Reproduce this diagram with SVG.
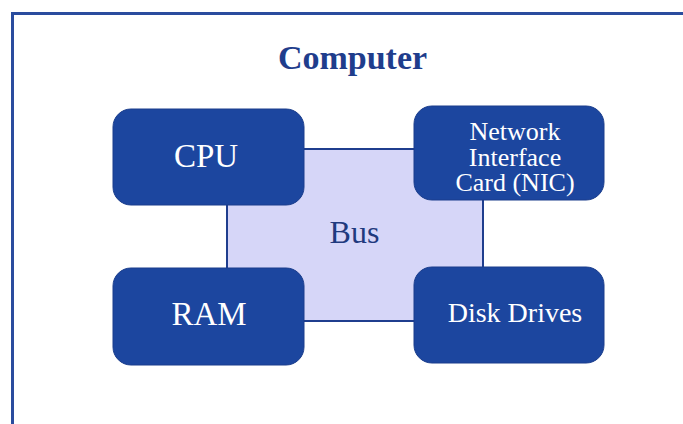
<svg xmlns="http://www.w3.org/2000/svg" width="683" height="424" viewBox="0 0 683 424">
  <style>
    .node rect { fill: #1c469f; stroke: #1a3d8c; stroke-width: 1; }
    .node text { fill: #ffffff; font-family: "Liberation Serif", "Times New Roman", serif; text-anchor: middle; }
    .link { stroke: #1f3e8e; stroke-width: 2; }
    .title { fill: #1f3d8c; font-family: "Liberation Serif", "Times New Roman", serif; font-weight: bold; font-size: 34px; text-anchor: middle; }
  </style>
  <rect x="0" y="0" width="683" height="424" fill="#ffffff"/>
  <!-- outer frame -->
  <rect x="12.5" y="13.5" width="700" height="440" fill="none" stroke="#2a4c9e" stroke-width="3"/>
  <text class="title" x="352.5" y="69">Computer</text>

  <!-- bus panel behind the nodes -->
  <g id="connectors">
    <rect id="bus" class="link" x="227" y="149" width="256" height="172" fill="#d6d6f8"/>
    <text x="354.5" y="243" font-family="Liberation Serif, Times New Roman, serif" font-size="32" fill="#1f3a7e" text-anchor="middle">Bus</text>
  </g>

  <g id="cpu" class="node">
    <rect x="113" y="109" width="191" height="96" rx="18"/>
    <text x="206" y="167" font-size="33">CPU</text>
  </g>
  <g id="nic" class="node">
    <rect x="414" y="106" width="190" height="94" rx="18"/>
    <text x="515" y="140" font-size="26">Network</text>
    <text x="515" y="166" font-size="26">Interface</text>
    <text x="515" y="191" font-size="26">Card (NIC)</text>
  </g>
  <g id="ram" class="node">
    <rect x="113" y="268" width="191" height="97" rx="18"/>
    <text x="209" y="325" font-size="33">RAM</text>
  </g>
  <g id="disk" class="node">
    <rect x="414" y="267" width="190" height="96" rx="18"/>
    <text x="515" y="322" font-size="28">Disk Drives</text>
  </g>
</svg>
